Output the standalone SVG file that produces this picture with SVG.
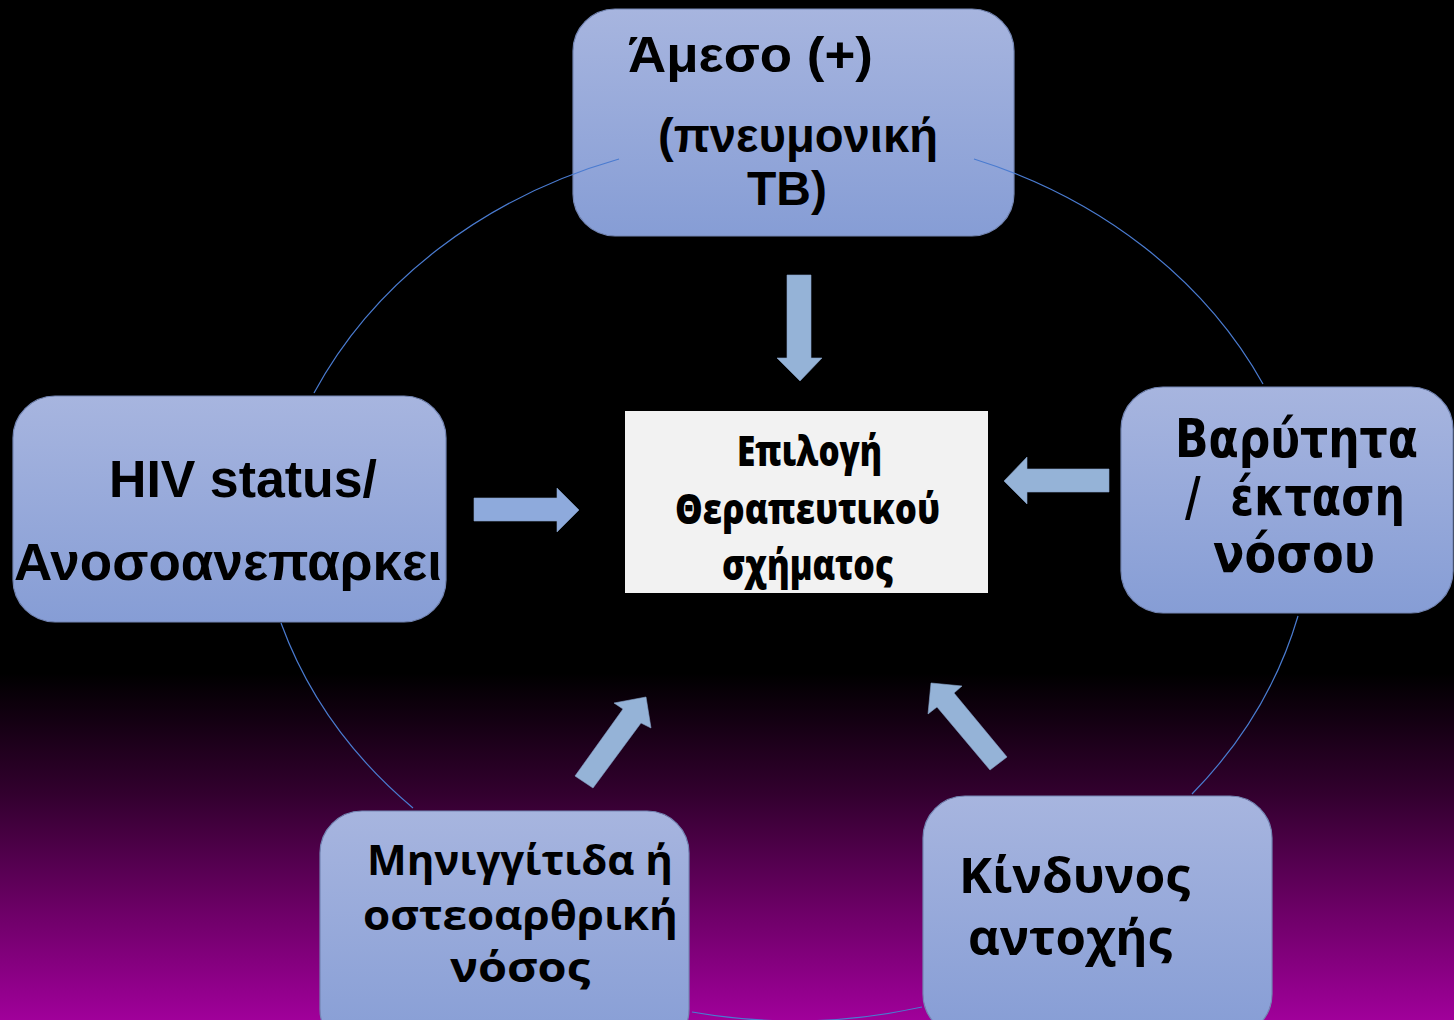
<svg xmlns="http://www.w3.org/2000/svg" width="1454" height="1020" viewBox="0 0 1454 1020">
<defs>
<linearGradient id="bg" x1="0" y1="0" x2="0" y2="1">
<stop offset="0" stop-color="#000000"/>
<stop offset="0.66" stop-color="#000000"/>
<stop offset="0.78" stop-color="#33002f"/>
<stop offset="0.9" stop-color="#70006a"/>
<stop offset="1" stop-color="#a0009a"/>
</linearGradient>
<linearGradient id="boxg" x1="0" y1="0" x2="0" y2="1">
<stop offset="0" stop-color="#a7b5df"/>
<stop offset="1" stop-color="#869dd5"/>
</linearGradient>
<style>
.box{fill:url(#boxg);stroke:#7486b4;stroke-width:1.2}
.t{fill:#000;font-weight:bold}
.arial{font-family:"Liberation Sans",Arial,sans-serif}
.verd{font-family:"DejaVu Sans Condensed","DejaVu Sans",sans-serif;font-stretch:condensed}
.seg{font-family:"Open Sans","Noto Sans",sans-serif}
.comic{font-family:"Comic Sans MS","Open Sans","Noto Sans",sans-serif;font-weight:800}
.arc{fill:none;stroke:#4a7bd0;stroke-width:1.2}
.arr{fill:#95b3d7;stroke:#86a3c9;stroke-width:0.6}
</style>
</defs>
<rect x="0" y="0" width="1454" height="1020" fill="url(#bg)"/>

<g id="node-top">
<rect class="box" x="573" y="9" width="441" height="227" rx="42"/>
<text class="t arial" x="628" y="72" font-size="50" textLength="245" lengthAdjust="spacingAndGlyphs">Άμεσο (+)</text>
<text class="t arial" x="658" y="152" font-size="48" textLength="280" lengthAdjust="spacingAndGlyphs">(πνευμονική</text>
<text class="t arial" x="747" y="205" font-size="48" textLength="80" lengthAdjust="spacingAndGlyphs">ΤΒ)</text>
</g>

<g id="node-left">
<rect class="box" x="13" y="396" width="433" height="226" rx="42"/>
<text class="t arial" x="109" y="497" font-size="51" textLength="268" lengthAdjust="spacingAndGlyphs">HIV status/</text>
<text class="t arial" x="14" y="580" font-size="51" textLength="428" lengthAdjust="spacingAndGlyphs">Ανοσοανεπαρκει</text>
</g>

<g id="node-right">
<rect class="box" x="1121" y="387" width="332" height="226" rx="42"/>
<text class="t verd" x="1175" y="457" font-size="54" textLength="243" lengthAdjust="spacingAndGlyphs">Βαρύτητα</text>
<text class="t verd" x="1185" y="515" font-size="54" textLength="220" lengthAdjust="spacingAndGlyphs" xml:space="preserve">/  έκταση</text>
<text class="t verd" x="1213" y="572" font-size="54" textLength="162" lengthAdjust="spacingAndGlyphs">νόσου</text>
</g>

<g id="node-bottom-left">
<rect class="box" x="320" y="811" width="369" height="240" rx="42"/>
<text class="t seg" x="367" y="875" font-size="42" textLength="306" lengthAdjust="spacingAndGlyphs">Μηνιγγίτιδα ή</text>
<text class="t seg" x="363" y="930" font-size="42" textLength="315" lengthAdjust="spacingAndGlyphs">οστεοαρθρική</text>
<text class="t seg" x="450" y="982" font-size="42" textLength="140" lengthAdjust="spacingAndGlyphs">νόσος</text>
</g>

<g id="node-bottom-right">
<rect class="box" x="923" y="796" width="349" height="240" rx="42"/>
<text class="t seg" x="959" y="893" font-size="49" textLength="231" lengthAdjust="spacingAndGlyphs">Κίνδυνος</text>
<text class="t seg" x="968" y="955" font-size="49" textLength="204" lengthAdjust="spacingAndGlyphs">αντοχής</text>
</g>

<g id="node-center">
<rect x="625" y="411" width="363" height="182" fill="#f2f2f2"/>
<text class="t comic" x="737" y="466" font-size="42" textLength="145" lengthAdjust="spacingAndGlyphs">Επιλογή</text>
<text class="t comic" x="675" y="524" font-size="42" textLength="265" lengthAdjust="spacingAndGlyphs">Θεραπευτικού</text>
<text class="t comic" x="722" y="580" font-size="42" textLength="171" lengthAdjust="spacingAndGlyphs">σχήματος</text>
</g>

<g id="connectors">
<path class="arc" d="M619,159 A515,445 0 0 0 314,393"/>
<path class="arc" d="M281,623 A515,445 0 0 0 413,808"/>
<path class="arc" d="M692,1012 A515,445 0 0 0 922,1007"/>
<path class="arc" d="M1192,794 A515,445 0 0 0 1298,616"/>
<path class="arc" d="M1263,384 A515,445 0 0 0 974,159"/>
<polygon class="arr" points="787,275 811,275 811,358 822,358 800,381 777,358 787,358"/>
<polygon class="arr" style="fill:#8eaadc" points="474,498 557,498 557,488 579,510 557,532 557,521 474,521"/>
<polygon class="arr" points="1109,469 1027,469 1027,457 1004,481 1027,504 1027,492 1109,492"/>
<polygon class="arr" points="575,776 623,709 614,703 646,697 651,728 641,723 593,788"/>
<polygon class="arr" points="990,770 937,707 928,714 931,683 962,686 954,693 1007,757"/>
</g>
</svg>
